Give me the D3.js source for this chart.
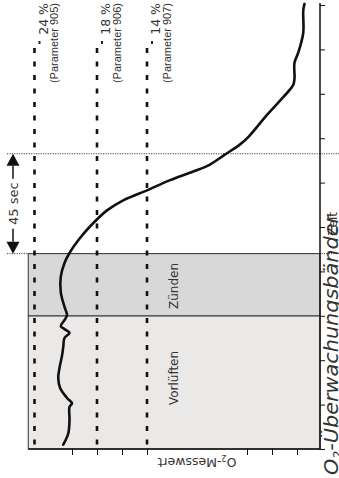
<!DOCTYPE html>
<html><head><meta charset="utf-8">
<script src="https://cdn.jsdelivr.net/npm/d3@7"></script>
<style>body{margin:0;background:#fff}svg{display:block}text{font-family:"DejaVu Sans",sans-serif;fill:#333}</style>
</head><body>
<svg id="c" width="339" height="478"></svg>
<script>
// ---- data ----
const timeS = [2, 7, 13, 19, 20.5, 23, 27.5, 32, 36.5, 42, 46, 50, 52.3, 54, 55.4, 58, 60.4, 64, 70.7, 77.5, 83.8, 88.3, 94, 100, 107.5, 112, 116.5, 121, 125, 128, 132.5, 137, 140.5, 150.5, 158.5, 164, 167, 174, 178.5, 187.5, 197.5, 200.5];
const o2Pct = [20.7, 20.3, 20.2, 20.2, 20.0, 20.4, 20.95, 21.1, 21.0, 20.8, 20.7, 20.6, 20.2, 20.6, 20.9, 20.6, 20.4, 20.6, 20.9, 20.9, 20.6, 20.2, 19.5, 18.6, 17.2, 15.9, 14.0, 12.2, 10.3, 9.0, 7.8, 6.6, 5.9, 4.4, 3.1, 2.3, 2.2, 2.2, 1.9, 1.5, 1.5, 1.4];
const phaseNames = ["Vorlüften", "Zünden"];
const phaseStart = [0, 60];
const phaseEnd = [60, 88];
const thresholdPct = [23, 18, 14];
const thresholdLabels = ["24 %", "18 %", "14 %"];
const thresholdParams = ["(Parameter 905)", "(Parameter 906)", "(Parameter 907)"];
const timeTicks = [0, 20, 40, 60, 80, 100, 120, 140, 160, 180, 200];
const o2Ticks = [2, 4, 6, 14, 16, 18, 20];
const markerStart = 88, markerEnd = 133;
const markerLabel = "45 sec";
const o2Max = 23.5;

// ---- layout ----
const svg = d3.select("#c");
const axisX = 320, axisY = 449;
const y = d3.scaleLinear().domain([0, 200]).range([449, 5]);
const x = d3.scaleLinear().domain([0, 20]).range([322, 72]);
const left = x(o2Max);

// dotted marker lines (extend past axis)
[markerStart, markerEnd].forEach(t => {
  svg.append("line").attr("x1", 7).attr("x2", 339).attr("y1", y(t)).attr("y2", y(t))
    .attr("stroke", "#444").attr("stroke-width", 1).attr("stroke-dasharray", "1.2,1.2");
});

// phase boxes
const phaseFill = ["#ebe9e8", "#d8d8d8"];
const phaseLabelY = [378, 286];
phaseNames.forEach((p, i) => {
  svg.append("rect").attr("x", left).attr("y", y(phaseEnd[i]))
    .attr("width", axisX - left).attr("height", y(phaseStart[i]) - y(phaseEnd[i]))
    .attr("fill", phaseFill[i]).attr("stroke", "#333").attr("stroke-width", 1);
  svg.append("text").attr("transform", `translate(178,${phaseLabelY[i]}) rotate(-90)`)
    .attr("text-anchor", "middle").attr("font-size", 12).text(p);
});

// threshold dashed lines + labels
thresholdPct.forEach((v, i) => {
  const tx = x(v);
  svg.append("line").attr("x1", tx).attr("x2", tx).attr("y1", 48).attr("y2", axisY)
    .attr("stroke", "#111").attr("stroke-width", 2.6).attr("stroke-dasharray", "5,8.5");
  svg.append("rect").attr("x", tx + 4).attr("y", 41).attr("width", 2).attr("height", 3).attr("fill", "#222");
  svg.append("text").attr("transform", `translate(${tx + 13},3) rotate(-90)`)
    .attr("text-anchor", "end").attr("font-size", 12.5).text(thresholdLabels[i]);
  svg.append("text").attr("transform", `translate(${tx + 23.5},3) rotate(-90)`)
    .attr("text-anchor", "end").attr("font-size", 11)
    .style("font-family", "'Liberation Sans', Arial, sans-serif").text(thresholdParams[i]);
});

// curve
const pts = timeS.map((t, i) => [x(o2Pct[i]), y(t)]);
svg.append("path").attr("d", d3.line().curve(d3.curveCatmullRom)(pts))
  .attr("fill", "none").attr("stroke", "#111").attr("stroke-width", 2.6).attr("stroke-linecap", "round");

// axes
const gR = svg.append("g").attr("transform", `translate(${axisX},0)`)
  .call(d3.axisRight(y).tickValues(timeTicks).tickSize(5).tickSizeOuter(0).tickFormat(""));
gR.select(".domain").remove();
gR.selectAll(".tick line").attr("stroke", "#111").attr("stroke-width", 1);
svg.append("line").attr("x1", axisX).attr("x2", axisX).attr("y1", 3).attr("y2", axisY)
  .attr("stroke", "#111").attr("stroke-width", 1.5);

const gB = svg.append("g").attr("transform", `translate(0,${axisY})`)
  .call(d3.axisBottom(x).tickValues(o2Ticks).tickSize(6).tickSizeOuter(0).tickFormat(""));
gB.select(".domain").remove();
gB.selectAll(".tick line").attr("stroke", "#111").attr("stroke-width", 1);
svg.append("line").attr("x1", left).attr("x2", axisX).attr("y1", axisY).attr("y2", axisY)
  .attr("stroke", "#111").attr("stroke-width", 1.5);

// 45 sec arrow
const ax = 13;
const y1 = y(markerEnd), y2 = y(markerStart);
svg.append("path").attr("d", `M${ax},${y1} L${ax - 6.5},${y1 + 12} L${ax + 6.5},${y1 + 12} Z`).attr("fill", "#111");
svg.append("path").attr("d", `M${ax},${y2} L${ax - 6.5},${y2 - 12} L${ax + 6.5},${y2 - 12} Z`).attr("fill", "#111");
const mid = (y1 + y2) / 2;
svg.append("line").attr("x1", ax).attr("x2", ax).attr("y1", y1 + 12).attr("y2", mid - 25).attr("stroke", "#111").attr("stroke-width", 1.5);
svg.append("line").attr("x1", ax).attr("x2", ax).attr("y1", mid + 25).attr("y2", y2 - 12).attr("stroke", "#111").attr("stroke-width", 1.5);
svg.append("text").attr("transform", `translate(${ax + 5},${mid}) rotate(-90)`)
  .attr("text-anchor", "middle").attr("font-size", 13).text(markerLabel);

// O2-Messwert label (upside down)
const lm = svg.append("text").attr("transform", `translate(197,458) rotate(180)`)
  .attr("text-anchor", "middle").attr("font-size", 12.5);
lm.append("tspan").text("O");
lm.append("tspan").attr("font-size", 8).attr("dy", 3).text("2");
lm.append("tspan").attr("dy", -3).text("-Messwert");

// title + Zeit
const tt = svg.append("text").attr("transform", `translate(338,475) rotate(-90)`)
  .attr("font-size", 20).attr("font-style", "italic").attr("textLength", 260).attr("lengthAdjust", "spacingAndGlyphs");
tt.append("tspan").text("O");
tt.append("tspan").attr("font-size", 12).attr("dy", 4).text("2");
tt.append("tspan").attr("dy", -4).text("-Überwachungsbänder");
svg.append("text").attr("transform", `translate(337,212) rotate(-90)`)
  .attr("text-anchor", "end").attr("font-size", 12).text("Zeit");
</script>
</body></html>
